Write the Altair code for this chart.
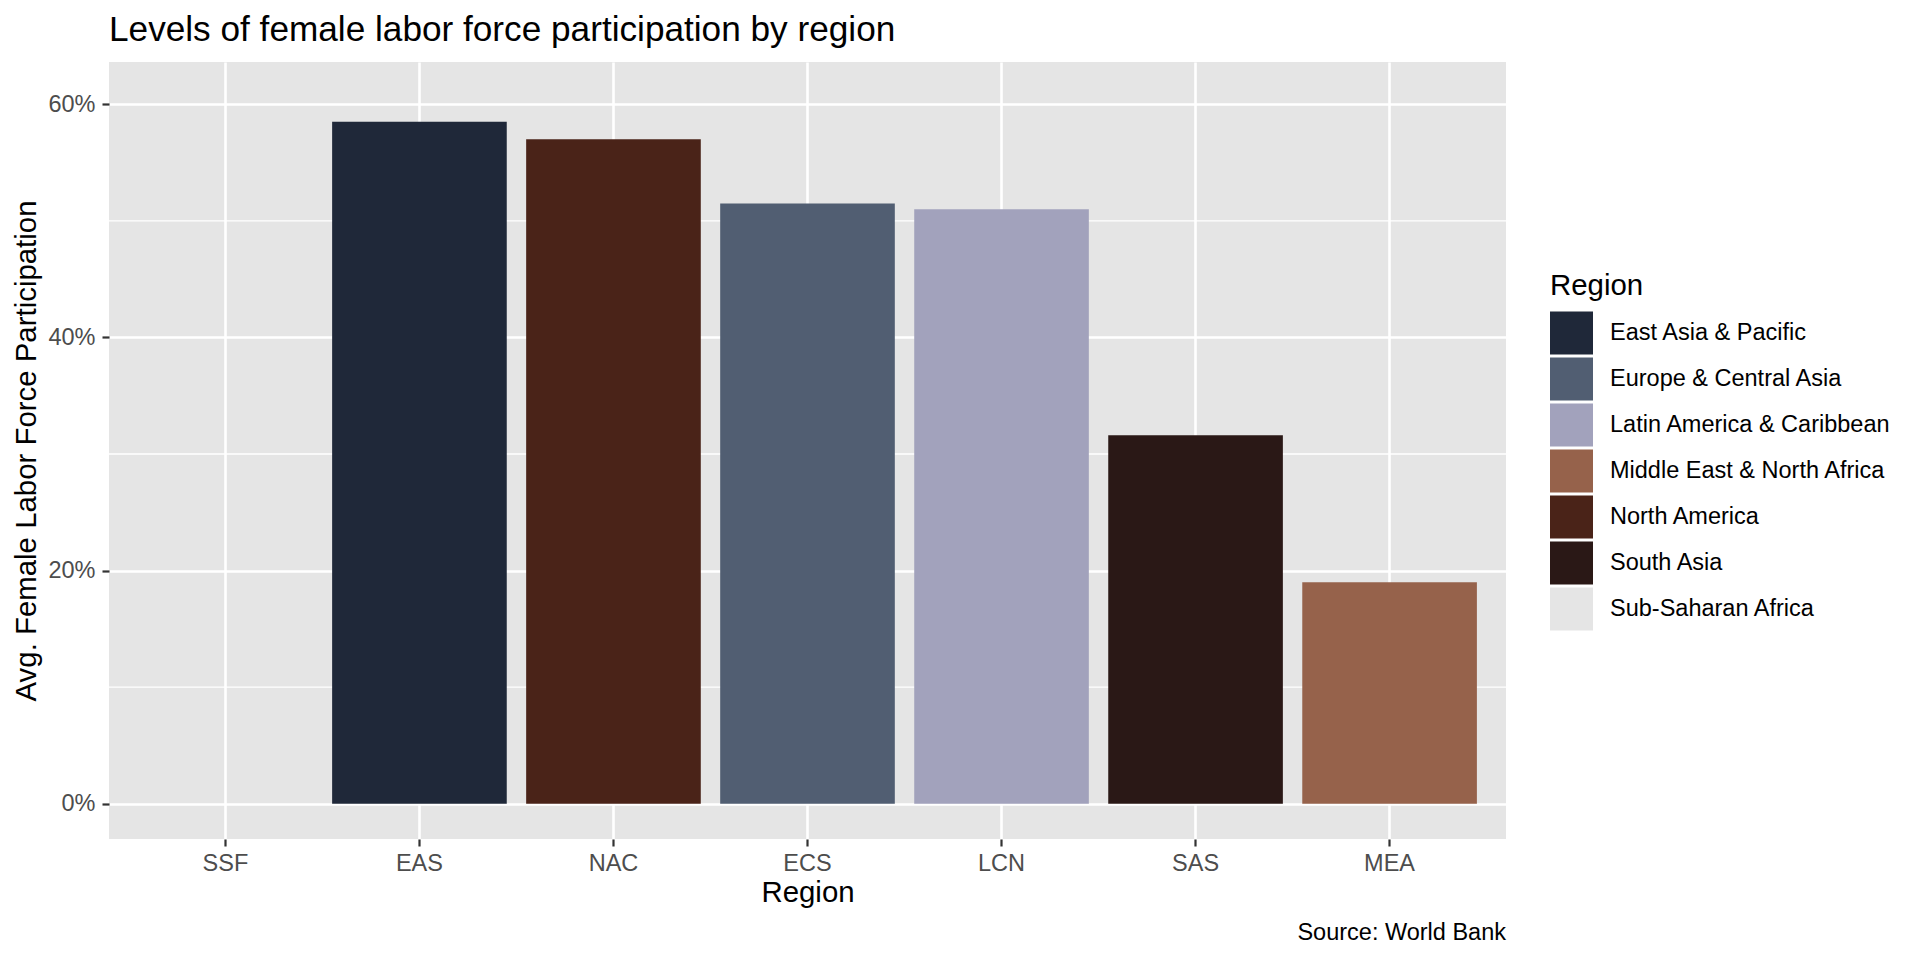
import altair as alt
import pandas as pd

# ---- data ----
codes = ["SSF", "EAS", "NAC", "ECS", "LCN", "SAS", "MEA"]
regions = ["Sub-Saharan Africa", "East Asia & Pacific", "North America",
           "Europe & Central Asia", "Latin America & Caribbean", "South Asia",
           "Middle East & North Africa"]
values = [60.6, 58.5, 57.0, 51.5, 51.0, 31.6, 19.0]

legend_order = ["East Asia & Pacific", "Europe & Central Asia",
                "Latin America & Caribbean", "Middle East & North Africa",
                "North America", "South Asia", "Sub-Saharan Africa"]
legend_colors = ["#1F2839", "#515E72", "#A2A2BC", "#96624B",
                 "#4A2318", "#2A1816", "#E5E5E5"]

major_ticks = [0, 20, 40, 60]
minor_ticks = [10, 30, 50]

title_text = "Levels of female labor force participation by region"
caption_text = "Source: World Bank"

df = pd.DataFrame({"code": codes, "region": regions, "value": values})
minor_df = pd.DataFrame({"v": minor_ticks})
cap_df = pd.DataFrame({"t": [caption_text]})

vmax = max(values)
ydomain = [-0.05 * vmax, 1.05 * vmax]

W, H = 1397, 777
FONT = "Liberation Sans"
F_SMALL = 23.5
F_MID = 29.4
F_TITLE = 35.2

yscale = alt.Scale(domain=ydomain, nice=False, zero=False)

minor = alt.Chart(minor_df).mark_rule(color="white", strokeWidth=1.3).encode(
    y=alt.Y("v:Q", scale=yscale, axis=None)
)

bars = alt.Chart(df).mark_bar().encode(
    x=alt.X("code:N", sort=codes,
            scale=alt.Scale(domain=codes, paddingInner=0.1, paddingOuter=0.15),
            axis=alt.Axis(title="Region", labelAngle=0, grid=True,
                          gridColor="white", gridWidth=2.6,
                          domain=False, tickColor="#333333", tickWidth=2.2,
                          tickSize=7, labelPadding=5, labelFont=FONT,
                          labelFontSize=F_SMALL, labelColor="#4D4D4D",
                          titleFont=FONT, titleFontSize=F_MID,
                          titleFontWeight="normal", titleColor="black",
                          titleBaseline="alphabetic", titleY=62)),
    y=alt.Y("value:Q", scale=yscale,
            axis=alt.Axis(title="Avg. Female Labor Force Participation",
                          orient="left",
                          values=major_ticks, labelExpr="datum.value + '%'",
                          grid=True, gridColor="white", gridWidth=2.6,
                          domain=False, tickColor="#333333", tickWidth=2.2,
                          tickSize=7, labelPadding=7, labelFont=FONT,
                          labelFontSize=F_SMALL, labelColor="#4D4D4D",
                          titleFont=FONT, titleFontSize=F_MID,
                          titleFontWeight="normal", titleColor="black",
                          titleBaseline="alphabetic", titleX=-74,
                          titleY=H / 2, titleAngle=270)),
    color=alt.Color("region:N",
                    scale=alt.Scale(domain=legend_order, range=legend_colors),
                    legend=alt.Legend(title="Region", orient="none",
                                      legendX=1441, legendY=210,
                                      symbolType="square", symbolSize=1849,
                                      symbolStrokeWidth=0,
                                      symbolOpacity=1,
                                      rowPadding=3, labelOffset=17,
                                      titlePadding=10, padding=0,
                                      titleFont=FONT, titleFontSize=F_MID,
                                      titleFontWeight="normal",
                                      titleColor="black",
                                      labelFont=FONT, labelFontSize=F_SMALL,
                                      labelColor="black", labelLimit=400)),
    opacity=alt.condition(alt.datum.code == "SSF", alt.value(0), alt.value(1)),
)

caption = alt.Chart(cap_df).mark_text(
    align="right", baseline="alphabetic", font=FONT, fontSize=F_SMALL,
    color="black"
).encode(x=alt.value(W), y=alt.value(878), text="t:N")

chart = alt.layer(minor, bars, caption).resolve_axis(y="independent").properties(
    width=W, height=H,
    title=alt.Title(title_text, anchor="start", frame="group", font=FONT,
                    fontSize=F_TITLE, fontWeight="normal", color="black",
                    baseline="top", offset=14),
    padding={"left": 101, "top": 54, "right": 400, "bottom": 113},
    autosize=alt.AutoSizeParams(type="none"),
    background="white",
).configure_view(fill="#E5E5E5", strokeWidth=0)

chart.save("out.html", embed_options={"renderer": "svg", "actions": False})
